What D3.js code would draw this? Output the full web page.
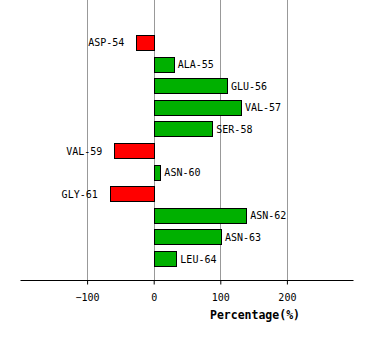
<!DOCTYPE html>
<html><head><meta charset="utf-8">
<script src="https://cdn.jsdelivr.net/npm/d3@7"></script>
<style>body{margin:0;background:#fff}svg{display:block}</style>
</head><body>
<svg id="c" width="374" height="340"></svg>
<script>
const residues = ["ASP-54","ALA-55","GLU-56","VAL-57","SER-58","VAL-59","ASN-60","GLY-61","ASN-62","ASN-63","LEU-64"];
const percentages = [-26, 30, 110, 131, 88, -59, 10, -66, 139, 101, 34];
const tickValues = [-100, 0, 100, 200];
const axisTitle = "Percentage(%)";

const svg = d3.select("#c");
const x = d3.scaleLinear().domain([-200, 300]).range([20.5, 353.5]);
const y = d3.scaleBand().domain(residues).range([35, 266]).paddingInner(0.306).paddingOuter(0);
const axisY = 280.5;
const font = "'DejaVu Sans Mono', monospace";

// gridlines
svg.append("g").selectAll("line").data(tickValues).join("line")
  .attr("x1", d => Math.round(x(d)) + 0.5).attr("x2", d => Math.round(x(d)) + 0.5)
  .attr("y1", 0).attr("y2", axisY)
  .attr("stroke", "#999").attr("stroke-width", 1);

// bars
const rows = residues.map((r, i) => ({r, v: percentages[i]}));
const x0 = Math.round(x(0)) + 0.5;
svg.append("g").selectAll("rect").data(rows).join("rect")
  .attr("x", d => d.v < 0 ? Math.round(x(d.v)) + 0.5 : x0)
  .attr("width", d => Math.abs(Math.round(x(d.v)) + 0.5 - x0))
  .attr("y", d => Math.round(y(d.r)) + 0.5)
  .attr("height", d => Math.round(y.bandwidth()))
  .attr("fill", d => d.v < 0 ? "#ff0000" : "#00b000")
  .attr("stroke", "#000").attr("stroke-width", 1);

// labels
svg.append("g").selectAll("text").data(rows).join("text")
  .attr("x", d => d.v < 0 ? x(d.v) - 12 : x(d.v) + 4)
  .attr("y", d => y(d.r) + y.bandwidth() / 2 + 0.5)
  .attr("dy", "0.35em")
  .attr("text-anchor", d => d.v < 0 ? "end" : "start")
  .attr("font-family", font).attr("font-size", "10px").attr("fill", "#000")
  .text(d => d.r);

// axis
const axis = d3.axisBottom(x).tickValues(tickValues).tickSize(4).tickPadding(9).tickFormat(d3.format("d"));
const ag = svg.append("g").attr("transform", `translate(0,${axisY})`).call(axis);
ag.select(".domain").attr("d", `M${x.range()[0]},0H${x.range()[1]}`).attr("stroke", "#000");
ag.selectAll(".tick line").attr("stroke", "#000");
ag.selectAll(".tick text").attr("font-family", font).attr("font-size", "10px").attr("fill", "#000");

svg.append("text")
  .attr("x", 255).attr("y", 315).attr("dy", "0.35em")
  .attr("text-anchor", "middle")
  .attr("font-family", font).attr("font-size", "11.5px").attr("font-weight", "bold")
  .text(axisTitle);
</script>
</body></html>
